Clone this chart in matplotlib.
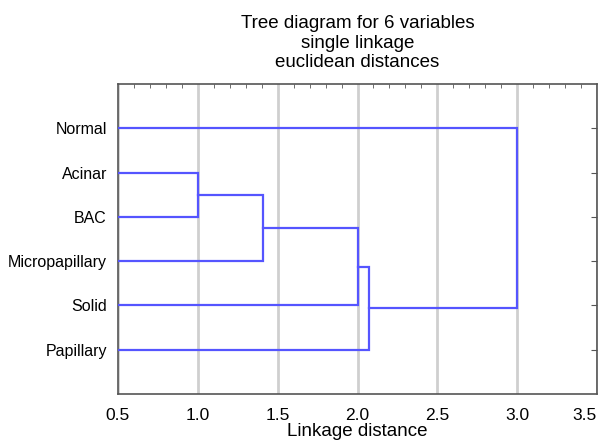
import matplotlib
matplotlib.use("Agg")
import matplotlib.pyplot as plt
from matplotlib.ticker import MultipleLocator

plt.rcParams["font.family"] = ["Liberation Sans", "DejaVu Sans"]

# leaves, top to bottom
leaves = ["Normal", "Acinar", "BAC", "Micropapillary", "Solid", "Papillary"]
# merges: (left cluster, right cluster, linkage distance); clusters 0-5 are leaves, 6+ new
merges = [(1, 2, 1.00), (6, 3, 1.41), (7, 4, 2.00), (8, 5, 2.07), (0, 9, 3.00)]
xticks = [0.5, 1.0, 1.5, 2.0, 2.5, 3.0, 3.5]

blue = "#5555ff"

fig = plt.figure(figsize=(6.04, 4.41), dpi=100)
ax = fig.add_axes([118 / 604, 1 - 394 / 441, 479 / 604, 310 / 441])

# position (y) and height (x) of every cluster
ypos = {i: i + 1 for i in range(len(leaves))}
xpos = {i: 0.5 for i in range(len(leaves))}
for k, (a, b, d) in enumerate(merges):
    ax.plot([xpos[a], d, d, xpos[b]], [ypos[a], ypos[a], ypos[b], ypos[b]],
            color=blue, lw=1.6, solid_joinstyle="miter", zorder=3)
    c = len(leaves) + k
    ypos[c] = (ypos[a] + ypos[b]) / 2
    xpos[c] = d

ax.set_xlim(0.5, 3.5)
ax.set_ylim(7, 0)
ax.set_yticks(range(1, len(leaves) + 1))
ax.set_yticklabels(leaves)
ax.set_xticks(xticks)
ax.set_xticklabels(["%.1f" % v for v in xticks])
ax.xaxis.set_minor_locator(MultipleLocator(0.1))
ax.grid(axis="x", color="#bbbbbb", lw=2, alpha=0.7, zorder=0)
ax.tick_params(axis="x", direction="in", top=True, bottom=True, length=0, labelsize=12.5, pad=10)
ax.tick_params(axis="x", which="minor", direction="in", top=True, bottom=False, length=3, color="#555555")
ax.tick_params(axis="y", direction="in", left=False, right=True, length=4, color="#555555",
               labelsize=11.5, pad=8)
for s in ax.spines.values():
    s.set_color("#555555")
    s.set_linewidth(1.2)

ax.set_xlabel("Linkage distance", fontsize=13.5, labelpad=0)
ax.set_title("Tree diagram for 6 variables\nsingle linkage\neuclidean distances",
             fontsize=13.5, linespacing=1.2, pad=12)

fig.canvas.draw()
# keep the last label inside the picture
ax.xaxis.get_major_ticks()[len(xticks) - 1].label1.set_ha("right")
ax.xaxis.get_major_ticks()[len(xticks) - 1].label1.set_x(3.56)
fig.savefig("out.png", dpi=100)
